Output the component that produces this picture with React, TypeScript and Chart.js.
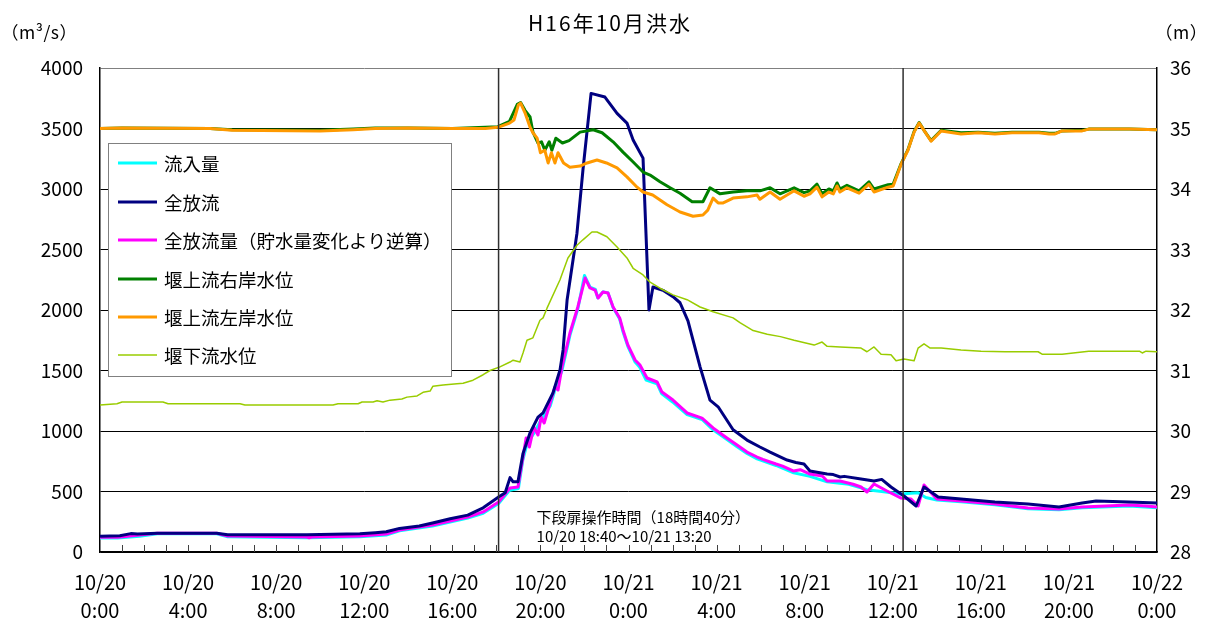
import React, { useEffect, useRef } from "react";
import { Chart, registerables } from "chart.js";

Chart.register(...registerables);

const FONT = "'Noto Sans CJK JP', 'Noto Sans', sans-serif";

const title = "H16年10月洪水";
const leftUnit = "（m³/s）";
const rightUnit = "（m）";
const xTickLabels: string[][] = [
  ["10/20", "0:00"], ["10/20", "4:00"], ["10/20", "8:00"], ["10/20", "12:00"],
  ["10/20", "16:00"], ["10/20", "20:00"], ["10/21", "0:00"], ["10/21", "4:00"],
  ["10/21", "8:00"], ["10/21", "12:00"], ["10/21", "16:00"], ["10/21", "20:00"],
  ["10/22", "0:00"],
];
const seriesNames = [
  "流入量",
  "全放流",
  "全放流量（貯水量変化より逆算）",
  "堰上流右岸水位",
  "堰上流左岸水位",
  "堰下流水位",
];
const noteLines = ["下段扉操作時間（18時間40分）", "10/20 18:40～10/21 13:20"];
// hours since 10/20 0:00 where the vertical operation lines are drawn
const opMarkers = [18.1, 36.47];

// [hour, m3/s]
const inflow: [number, number][] = [
  [0, 115], [0.8, 115], [1.8, 130], [2.6, 150], [5.3, 150], [5.8, 125], [9.4, 118], [11.8, 125],
  [13.0, 140], [13.6, 175], [15.1, 215], [16.7, 280], [17.4, 320], [18.1, 400], [18.6, 510],
  [19.0, 525], [19.2, 760], [19.4, 900], [19.7, 980], [20.0, 1080], [20.45, 1210], [20.66, 1340],
  [20.98, 1500], [21.34, 1790], [21.7, 2010], [22.0, 2285], [22.25, 2190], [22.5, 2170],
  [22.6, 2100], [22.85, 2150], [23.07, 2140], [23.3, 2020], [23.6, 1925], [23.75, 1820],
  [23.97, 1700], [24.3, 1570], [24.5, 1530], [24.8, 1420], [25.3, 1390], [25.5, 1310],
  [26.0, 1240], [26.66, 1135], [27.34, 1095], [27.84, 1010], [28.47, 930], [28.93, 870],
  [29.38, 815], [29.84, 770], [30.7, 715], [31.5, 655], [32.24, 625], [33.02, 580], [34.0, 560],
  [34.83, 515], [35.5, 500], [36.38, 480], [36.83, 485], [37.15, 490], [37.5, 450], [38.0, 430],
  [39.1, 415], [40.64, 390], [42.14, 358], [43.55, 350], [44.6, 365], [46.73, 380], [48, 365],
];

const totalOutflow: [number, number][] = [
  [0, 130], [0.9, 135], [1.4, 152], [1.7, 148], [2.6, 155], [5.3, 155], [5.8, 142], [9.4, 142],
  [11.8, 150], [12.5, 160], [13.0, 168], [13.6, 195], [14.5, 215], [15.1, 240], [15.9, 275],
  [16.7, 305], [17.4, 365], [18.1, 455], [18.4, 490], [18.62, 615], [18.76, 580], [18.98, 580],
  [19.21, 815], [19.53, 985], [19.89, 1115], [20.12, 1150], [20.57, 1315], [20.89, 1505],
  [21.03, 1670], [21.21, 2080], [21.66, 2635], [21.93, 3155], [22.3, 3790], [22.93, 3760],
  [23.48, 3625], [23.93, 3545], [24.21, 3405], [24.66, 3255], [24.93, 2000], [25.11, 2190],
  [25.6, 2160], [26.02, 2110], [26.34, 2060], [26.7, 1910], [27.25, 1530], [27.7, 1255],
  [28.07, 1200], [28.75, 1010], [29.38, 925], [29.97, 868], [30.43, 826], [31.2, 760],
  [31.6, 740], [31.97, 727], [32.24, 670], [33.02, 644], [33.3, 640], [33.61, 620], [33.8, 625],
  [34.56, 603], [35.15, 587], [35.5, 600], [35.92, 537], [36.51, 463], [37.06, 380],
  [37.42, 537], [38.06, 455], [39.1, 438], [40.64, 413], [42.14, 397], [43.55, 372],
  [44.6, 405], [45.23, 421], [46.73, 413], [48, 405],
];

const calcOutflow: [number, number][] = [
  [0, 122], [0.8, 122], [1.8, 140], [2.6, 155], [5.3, 155], [5.8, 132], [9.4, 124], [9.5, 118],
  [9.6, 124], [11.8, 132], [13.0, 149], [13.6, 182], [15.1, 223], [16.7, 289], [17.4, 331],
  [18.1, 413], [18.62, 529], [18.98, 537], [19.21, 785], [19.35, 942], [19.5, 868], [19.7, 1033],
  [19.89, 967], [20.03, 1116], [20.17, 1066], [20.44, 1231], [20.66, 1364], [20.8, 1339],
  [20.98, 1529], [21.34, 1810], [21.7, 2025], [22.03, 2264], [22.25, 2182], [22.48, 2165],
  [22.62, 2099], [22.84, 2149], [23.07, 2140], [23.3, 2025], [23.6, 1934], [23.75, 1835],
  [23.97, 1711], [24.3, 1587], [24.52, 1545], [24.84, 1438], [25.3, 1405], [25.52, 1322],
  [26.02, 1256], [26.66, 1149], [27.34, 1107], [27.84, 1025], [28.47, 942], [28.93, 884],
  [29.38, 826], [29.84, 785], [30.1, 765], [30.43, 744], [30.7, 727], [31.0, 710], [31.5, 669],
  [31.8, 680], [32.24, 644], [32.8, 628], [33.02, 587], [33.6, 587], [34.2, 560], [34.56, 537],
  [34.83, 496], [35.15, 562], [35.74, 504], [36.38, 446], [36.83, 438], [37.15, 380],
  [37.42, 554], [38.0, 438], [39.1, 421], [40.64, 397], [42.14, 364], [43.55, 355], [44.6, 372],
  [46.73, 388], [47.5, 380], [48, 372],
];

// [hour, m]
const rightBankLevel: [number, number][] = [
  [0, 35.0], [1, 35.01], [5, 35.0], [6, 34.98], [10, 34.97], [11.5, 34.99], [12.5, 35.01],
  [14, 35.01], [16, 35.0], [17.5, 35.02], [18.07, 35.03], [18.6, 35.12], [18.95, 35.4],
  [19.1, 35.43], [19.3, 35.3], [19.53, 35.19], [19.66, 34.94], [19.89, 34.76], [20.05, 34.78],
  [20.2, 34.64], [20.4, 34.78], [20.52, 34.64], [20.7, 34.84], [21.0, 34.76], [21.3, 34.8],
  [21.8, 34.94], [22.4, 34.98], [22.8, 34.93], [23.3, 34.78], [23.75, 34.61], [24.2, 34.45],
  [24.66, 34.28], [24.98, 34.23], [25.43, 34.12], [25.89, 34.02], [26.34, 33.93], [26.89, 33.79],
  [27.38, 33.79], [27.7, 34.02], [28.16, 33.92], [28.75, 33.95], [29.38, 33.97], [29.97, 33.97],
  [30.43, 34.02], [30.88, 33.92], [31.52, 34.02], [31.97, 33.94], [32.24, 33.97], [32.56, 34.08],
  [32.79, 33.92], [33.1, 34.0], [33.3, 33.97], [33.47, 34.1], [33.6, 34.0], [33.92, 34.06],
  [34.47, 33.97], [34.92, 34.12], [35.15, 34.0], [35.79, 34.07], [36.02, 34.08], [36.38, 34.42],
  [36.69, 34.65], [36.97, 34.95], [37.2, 35.1], [37.42, 34.97], [37.74, 34.8], [38.2, 34.97],
  [39.1, 34.93], [39.88, 34.94], [40.64, 34.92], [41.42, 34.94], [42.64, 34.94], [43.1, 34.92],
  [43.37, 34.92], [43.69, 34.96], [44.6, 34.97], [44.9, 34.99], [46.73, 34.99], [48, 34.98],
];

const leftBankLevel: [number, number][] = [
  [0, 35.0], [1, 35.01], [5, 35.0], [6, 34.97], [10, 34.96], [11.5, 34.98], [12.5, 35.0],
  [14, 35.01], [16, 35.0], [17.5, 35.0], [18.07, 35.02], [18.6, 35.09], [18.8, 35.14],
  [19.0, 35.39], [19.1, 35.42], [19.3, 35.26], [19.53, 35.02], [19.66, 34.93], [19.85, 34.84],
  [20.0, 34.6], [20.2, 34.64], [20.35, 34.43], [20.5, 34.6], [20.66, 34.43], [20.8, 34.6],
  [21.05, 34.43], [21.34, 34.36], [21.8, 34.38], [22.12, 34.43], [22.57, 34.48], [23.0, 34.43],
  [23.48, 34.35], [23.93, 34.2], [24.39, 34.03], [24.66, 33.95], [25.1, 33.9], [25.75, 33.74],
  [26.34, 33.62], [26.93, 33.55], [27.38, 33.57], [27.6, 33.65], [27.84, 33.85], [28.07, 33.77],
  [28.3, 33.77], [28.75, 33.85], [29.38, 33.87], [29.84, 33.9], [29.97, 33.83], [30.43, 33.95],
  [30.88, 33.83], [31.52, 33.97], [31.97, 33.88], [32.24, 33.92], [32.56, 34.03], [32.79, 33.87],
  [33.1, 33.95], [33.3, 33.92], [33.47, 34.05], [33.6, 33.95], [33.92, 34.02], [34.47, 33.93],
  [34.92, 34.08], [35.15, 33.95], [35.79, 34.03], [36.02, 34.05], [36.38, 34.41], [36.69, 34.64],
  [36.97, 34.94], [37.2, 35.09], [37.42, 34.97], [37.74, 34.79], [38.2, 34.96], [39.1, 34.91],
  [39.88, 34.93], [40.64, 34.91], [41.42, 34.93], [42.64, 34.93], [43.1, 34.91], [43.37, 34.91],
  [43.69, 34.96], [44.6, 34.96], [44.9, 34.99], [46.73, 34.99], [48, 34.98],
];

const downstreamLevel: [number, number][] = [
  [0, 30.43], [0.77, 30.45], [1.0, 30.48], [2.86, 30.48], [3.09, 30.45], [6.36, 30.45],
  [6.58, 30.43], [10.58, 30.43], [10.81, 30.45], [11.72, 30.45], [11.9, 30.48], [12.4, 30.48],
  [12.58, 30.5], [12.85, 30.48], [13.17, 30.51], [13.71, 30.53], [13.94, 30.56], [14.4, 30.58],
  [14.67, 30.64], [14.99, 30.66], [15.12, 30.74], [15.58, 30.76], [16.21, 30.78], [16.49, 30.79],
  [16.94, 30.84], [17.4, 30.93], [17.71, 31.0], [18.16, 31.06], [18.62, 31.14], [18.76, 31.17],
  [19.07, 31.14], [19.21, 31.29], [19.39, 31.5], [19.66, 31.54], [19.98, 31.83], [20.12, 31.87],
  [20.3, 32.03], [20.89, 32.5], [21.25, 32.86], [21.66, 33.07], [21.93, 33.16], [22.34, 33.29],
  [22.57, 33.29], [23.02, 33.21], [23.48, 33.04], [23.93, 32.86], [24.21, 32.69], [24.66, 32.58],
  [24.98, 32.46], [25.43, 32.36], [26.02, 32.25], [26.66, 32.17], [27.25, 32.05], [27.84, 31.97],
  [28.75, 31.87], [29.06, 31.79], [29.66, 31.66], [30.3, 31.6], [30.9, 31.56], [31.52, 31.5],
  [32.43, 31.42], [32.79, 31.47], [33.02, 31.4], [33.61, 31.39], [34.56, 31.37], [34.83, 31.31],
  [35.15, 31.39], [35.47, 31.27], [35.92, 31.26], [36.15, 31.16], [36.51, 31.19], [36.97, 31.16],
  [37.15, 31.37], [37.42, 31.44], [37.7, 31.37], [38.2, 31.37], [39.1, 31.34], [40.01, 31.32],
  [41.1, 31.31], [42.6, 31.31], [42.78, 31.27], [43.69, 31.27], [44.9, 31.32], [47.2, 31.32],
  [47.33, 31.29], [47.5, 31.32], [48, 31.31],
];

const seriesColors = ["#00FFFF", "#000080", "#FF00FF", "#008000", "#FF9900", "#99CC00"];
const seriesWidths = [3, 3, 3, 3, 3, 1.5];

const toPts = (arr: [number, number][]) => arr.map(([x, y]) => ({ x, y }));

const overlayPlugin = {
  id: "overlay",
  beforeDraw(chart: any) {
    const ctx = chart.ctx;
    ctx.save();
    ctx.fillStyle = "#ffffff";
    ctx.fillRect(0, 0, chart.width, chart.height);
    ctx.restore();
  },
  afterDatasetsDraw(chart: any) {
    const ctx: CanvasRenderingContext2D = chart.ctx;
    const { top, bottom } = chart.chartArea;
    const xs = chart.scales.x;
    ctx.save();

    // hourly tick marks (inward)
    ctx.strokeStyle = "#404040";
    ctx.lineWidth = 1;
    for (let h = 1; h < 48; h++) {
      const px = Math.round(xs.getPixelForValue(h)) + 0.5;
      ctx.beginPath();
      ctx.moveTo(px, bottom);
      ctx.lineTo(px, bottom - 7);
      ctx.stroke();
    }

    // operation period vertical lines
    ctx.strokeStyle = "#303030";
    ctx.lineWidth = 1.5;
    opMarkers.forEach((h) => {
      const px = xs.getPixelForValue(h);
      ctx.beginPath();
      ctx.moveTo(px, top);
      ctx.lineTo(px, bottom);
      ctx.stroke();
    });

    // annotation
    const ax = xs.getPixelForValue(opMarkers[0]) + 38;
    ctx.fillStyle = "#000";
    ctx.font = `15px ${FONT}`;
    ctx.textAlign = "left";
    ctx.textBaseline = "middle";
    ctx.fillText(noteLines[0], ax, 517);
    ctx.fillText(noteLines[1], ax, 536);

    // legend box
    const lx = 108, ly = 143, lw = 343, lh = 233;
    ctx.fillStyle = "#ffffff";
    ctx.fillRect(lx, ly, lw, lh);
    ctx.strokeStyle = "#808080";
    ctx.lineWidth = 1;
    ctx.strokeRect(lx + 0.5, ly + 0.5, lw, lh);
    const rowY = [163, 202, 240, 279, 317, 355];
    ctx.font = `18.5px ${FONT}`;
    seriesNames.forEach((name, i) => {
      ctx.strokeStyle = seriesColors[i];
      ctx.lineWidth = seriesWidths[i];
      ctx.beginPath();
      ctx.moveTo(118, rowY[i]);
      ctx.lineTo(157, rowY[i]);
      ctx.stroke();
      ctx.fillStyle = "#000";
      ctx.fillText(name, 164, rowY[i] + 1);
    });
    ctx.restore();
  },
  afterDraw(chart: any) {
    const ctx: CanvasRenderingContext2D = chart.ctx;
    ctx.save();
    ctx.fillStyle = "#000";
    ctx.textBaseline = "middle";
    ctx.textAlign = "center";
    ctx.font = `21px ${FONT}`;
    (ctx as any).letterSpacing = "2px";
    ctx.fillText(title, 610, 23);
    (ctx as any).letterSpacing = "0.5px";
    ctx.font = `17.5px ${FONT}`;
    ctx.textAlign = "left";
    ctx.fillText(leftUnit, 1, 32);
    ctx.fillText(rightUnit, 1155, 32);
    ctx.restore();
  },
};

export default function App() {
  const canvasRef = useRef<HTMLCanvasElement | null>(null);

  useEffect(() => {
    if (!canvasRef.current) return;
    const mk = (i: number, arr: [number, number][], axis: string, order: number) => ({
      label: seriesNames[i],
      data: toPts(arr),
      borderColor: seriesColors[i],
      backgroundColor: seriesColors[i],
      borderWidth: seriesWidths[i],
      pointRadius: 0,
      tension: 0,
      yAxisID: axis,
      order,
      borderJoinStyle: "round" as const,
    });
    const chart = new Chart(canvasRef.current, {
      type: "line",
      data: {
        datasets: [
          mk(0, inflow, "y", 6),
          mk(1, totalOutflow, "y", 4),
          mk(2, calcOutflow, "y", 5),
          mk(3, rightBankLevel, "y2", 3),
          mk(4, leftBankLevel, "y2", 2),
          mk(5, downstreamLevel, "y2", 1),
        ],
      },
      options: {
        animation: false,
        responsive: true,
        maintainAspectRatio: false,
        layout: { padding: { top: 68, left: 0, right: 0, bottom: 0 } },
        plugins: { legend: { display: false }, tooltip: { enabled: false }, title: { display: false } },
        scales: {
          x: {
            type: "linear",
            min: 0,
            max: 48,
            afterFit: (s: any) => { s.height = 69; },
            afterBuildTicks: (s: any) => {
              s.ticks = xTickLabels.map((_, i) => ({ value: i * 4 }));
            },
            ticks: {
              autoSkip: false,
              maxRotation: 0,
              padding: 16,
              color: "#000",
              font: { family: FONT, size: 20, lineHeight: 1.4 },
              callback: (_v: any, i: number) => xTickLabels[i],
            },
            grid: { display: false, drawTicks: false },
            border: { display: true, color: "#000", width: 1.5 },
          },
          y: {
            position: "left",
            min: 0,
            max: 4000,
            afterFit: (s: any) => { s.width = 100; },
            ticks: {
              stepSize: 500,
              padding: 17,
              color: "#000",
              font: { family: FONT, size: 19 },
              callback: (v: any) => String(v),
            },
            grid: {
              drawTicks: false,
              color: (c: any) => (c.tick && c.tick.value === 4000 ? "#808080" : "#000"),
              lineWidth: 1,
            },
            border: { display: true, color: "#000", width: 1.5 },
          },
          y2: {
            position: "right",
            min: 28,
            max: 36,
            afterFit: (s: any) => { s.width = 48; },
            ticks: {
              stepSize: 1,
              padding: 13,
              color: "#000",
              font: { family: FONT, size: 19 },
              callback: (v: any) => String(v),
            },
            grid: { drawOnChartArea: false, drawTicks: false },
            border: { display: true, color: "#000", width: 1.5 },
          },
        },
      },
      plugins: [overlayPlugin],
    } as any);
    return () => chart.destroy();
  }, []);

  return (
    <div style={{ position: "absolute", left: 0, top: 0, width: 1205, height: 621 }}>
      <canvas ref={canvasRef} />
    </div>
  );
}
